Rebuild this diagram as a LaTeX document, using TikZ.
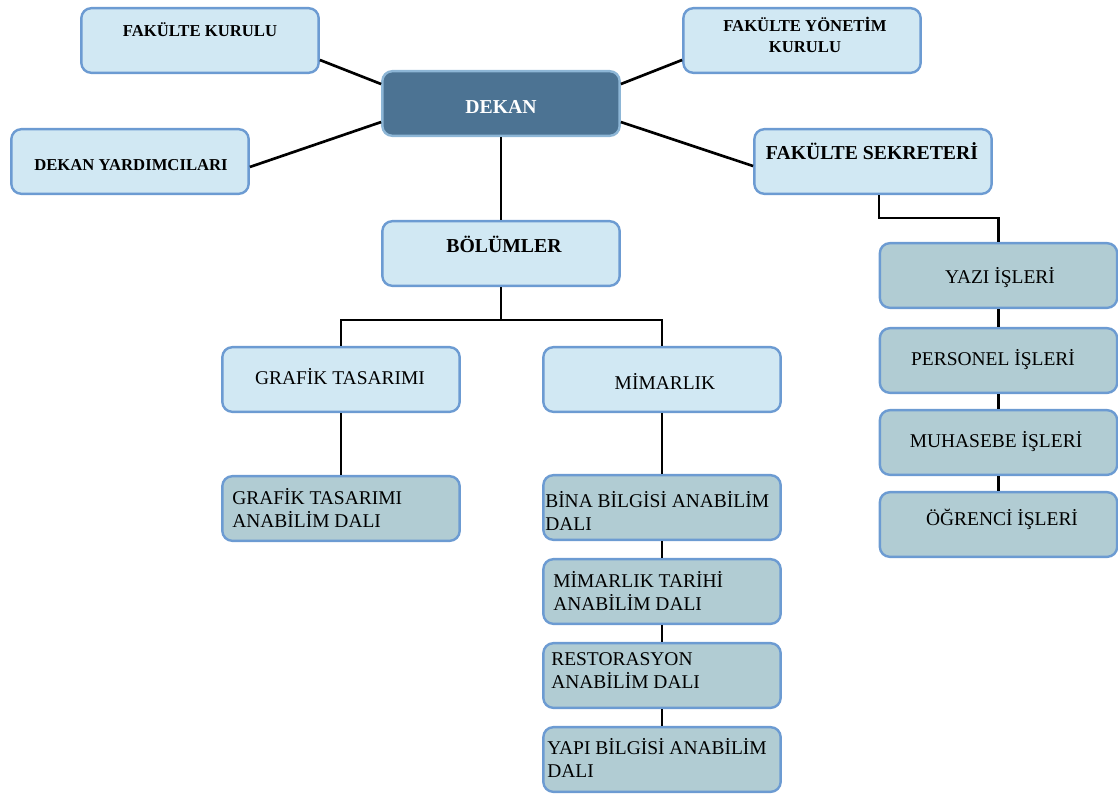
\documentclass[tikz,border=0pt]{standalone}
\usepackage{fontspec}
\setmainfont{Liberation Serif}
\definecolor{lightfill}{HTML}{D1E8F3}
\definecolor{darkfill}{HTML}{B1CCD3}
\definecolor{boxline}{HTML}{6C9BD2}
\definecolor{dekanfill}{HTML}{4C7393}
\definecolor{dekanline}{HTML}{8DB6D6}
\begin{document}
\begin{tikzpicture}[x=0.75pt,y=-0.75pt,
  box/.style={draw=boxline, line width=1.8pt, rounded corners=7.5pt, minimum width=178pt, minimum height=48.5pt, inner sep=0pt},
  light/.style={box, fill=lightfill},
  dark/.style={box, fill=darkfill},
  bs/.style={font=\fontsize{12.5}{15.5}\selectfont\bfseries, anchor=base, inner sep=0pt, align=center},
  bl/.style={font=\fontsize{14.8}{17}\selectfont\bfseries, anchor=base, inner sep=0pt},
  rt/.style={font=\fontsize{14.6}{17}\selectfont, anchor=base, inner sep=0pt},
  lt/.style={font=\fontsize{14.6}{16.9}\selectfont, anchor=base west, align=left, inner sep=0pt},
  conn/.style={line width=2pt, black}]
\useasboundingbox (0,0) rectangle (1118,794);
% boxes
\node[light] (fk) at (200,40.5) {};
\node[box, fill=dekanfill, draw=dekanline] (dk) at (501,103.5) {};
\node[light] (fyk) at (802,40.5) {};
\node[light] (dy) at (130,161.5) {};
\node[light] (fs) at (873,161.5) {};
\node[light] (bo) at (501,253.5) {};
\node[light] (gt) at (341,379.5) {};
\node[light] (mm) at (662,379.5) {};
\node[dark] (gtad) at (341,508.5) {};
\node[dark] (bina) at (662,507.5) {};
\node[dark] (mt) at (662,591.5) {};
\node[dark] (rs) at (662,675.5) {};
\node[dark] (yb) at (662,759.5) {};
\node[dark] (yz) at (998.5,275.5) {};
\node[dark] (ps) at (998.5,360.5) {};
\node[dark] (mh) at (998.5,442.5) {};
\node[dark] (og) at (998.5,524.5) {};
% texts
\node[bs] (fk-t) at (200,36) {FAKÜLTE KURULU};
\node[bl, text=white] (dk-t) at (501,113) {DEKAN};
\node[bs] (fyk-t) at (805,52) {FAKÜLTE YÖNETİM\\KURULU};
\node[bs] (dy-t) at (131,170) {DEKAN YARDIMCILARI};
\node[bl] (fs-t) at (872,159) {FAKÜLTE SEKRETERİ};
\node[bl] (bo-t) at (504,252.5) {BÖLÜMLER};
\node[rt] (gt-t) at (340,384) {GRAFİK TASARIMI};
\node[rt] (mm-t) at (665,389) {MİMARLIK};
\node[lt] (gtad-t) at (232,527) {GRAFİK TASARIMI\\ANABİLİM DALI};
\node[lt] (bina-t) at (545,530) {BİNA BİLGİSİ ANABİLİM\\DALI};
\node[lt] (mt-t) at (553,610) {MİMARLIK TARİHİ\\ANABİLİM DALI};
\node[lt] (rs-t) at (551,688) {RESTORASYON\\ANABİLİM DALI};
\node[lt] (yb-t) at (547,777) {YAPI BİLGİSİ ANABİLİM\\DALI};
\node[rt] (yz-t) at (1000,283) {YAZI İŞLERİ};
\node[rt] (ps-t) at (993,365) {PERSONEL İŞLERİ};
\node[rt] (mh-t) at (996,447) {MUHASEBE İŞLERİ};
\node[rt] (og-t) at (1002,525) {ÖĞRENCİ İŞLERİ};
% connectors
\draw[conn] ([yshift=-14.6pt]fk.east) -- ([yshift=14.6pt]dk.west);
\draw[conn] ([yshift=-4.1pt]dy.east) -- ([yshift=-13.9pt]dk.west);
\draw[conn] ([yshift=-14.6pt]fyk.west) -- ([yshift=14.6pt]dk.east);
\draw[conn] ([yshift=-3.4pt]fs.west) -- ([yshift=-13.9pt]dk.east);
\draw[conn] (dk.south) -- (bo.north);
\coordinate (split) at (501,320);
\draw[conn] (bo.south) -- (split);
\draw[conn] (gt.north) |- (split) -| (mm.north);
\draw[conn] (gt.south) -- (gtad.north);
\draw[conn] (mm.south) -- (bina.north);
\draw[conn] (bina.south) -- (mt.north);
\draw[conn] (mt.south) -- (rs.north);
\draw[conn] (rs.south) -- (yb.north);
\draw[conn] ([xshift=4.5pt]fs.south) -- ++(0,23) -| (yz.north);
\draw[conn] (yz.south) -- (ps.north);
\draw[conn] (ps.south) -- (mh.north);
\draw[conn] (mh.south) -- (og.north);
\end{tikzpicture}
\end{document}
